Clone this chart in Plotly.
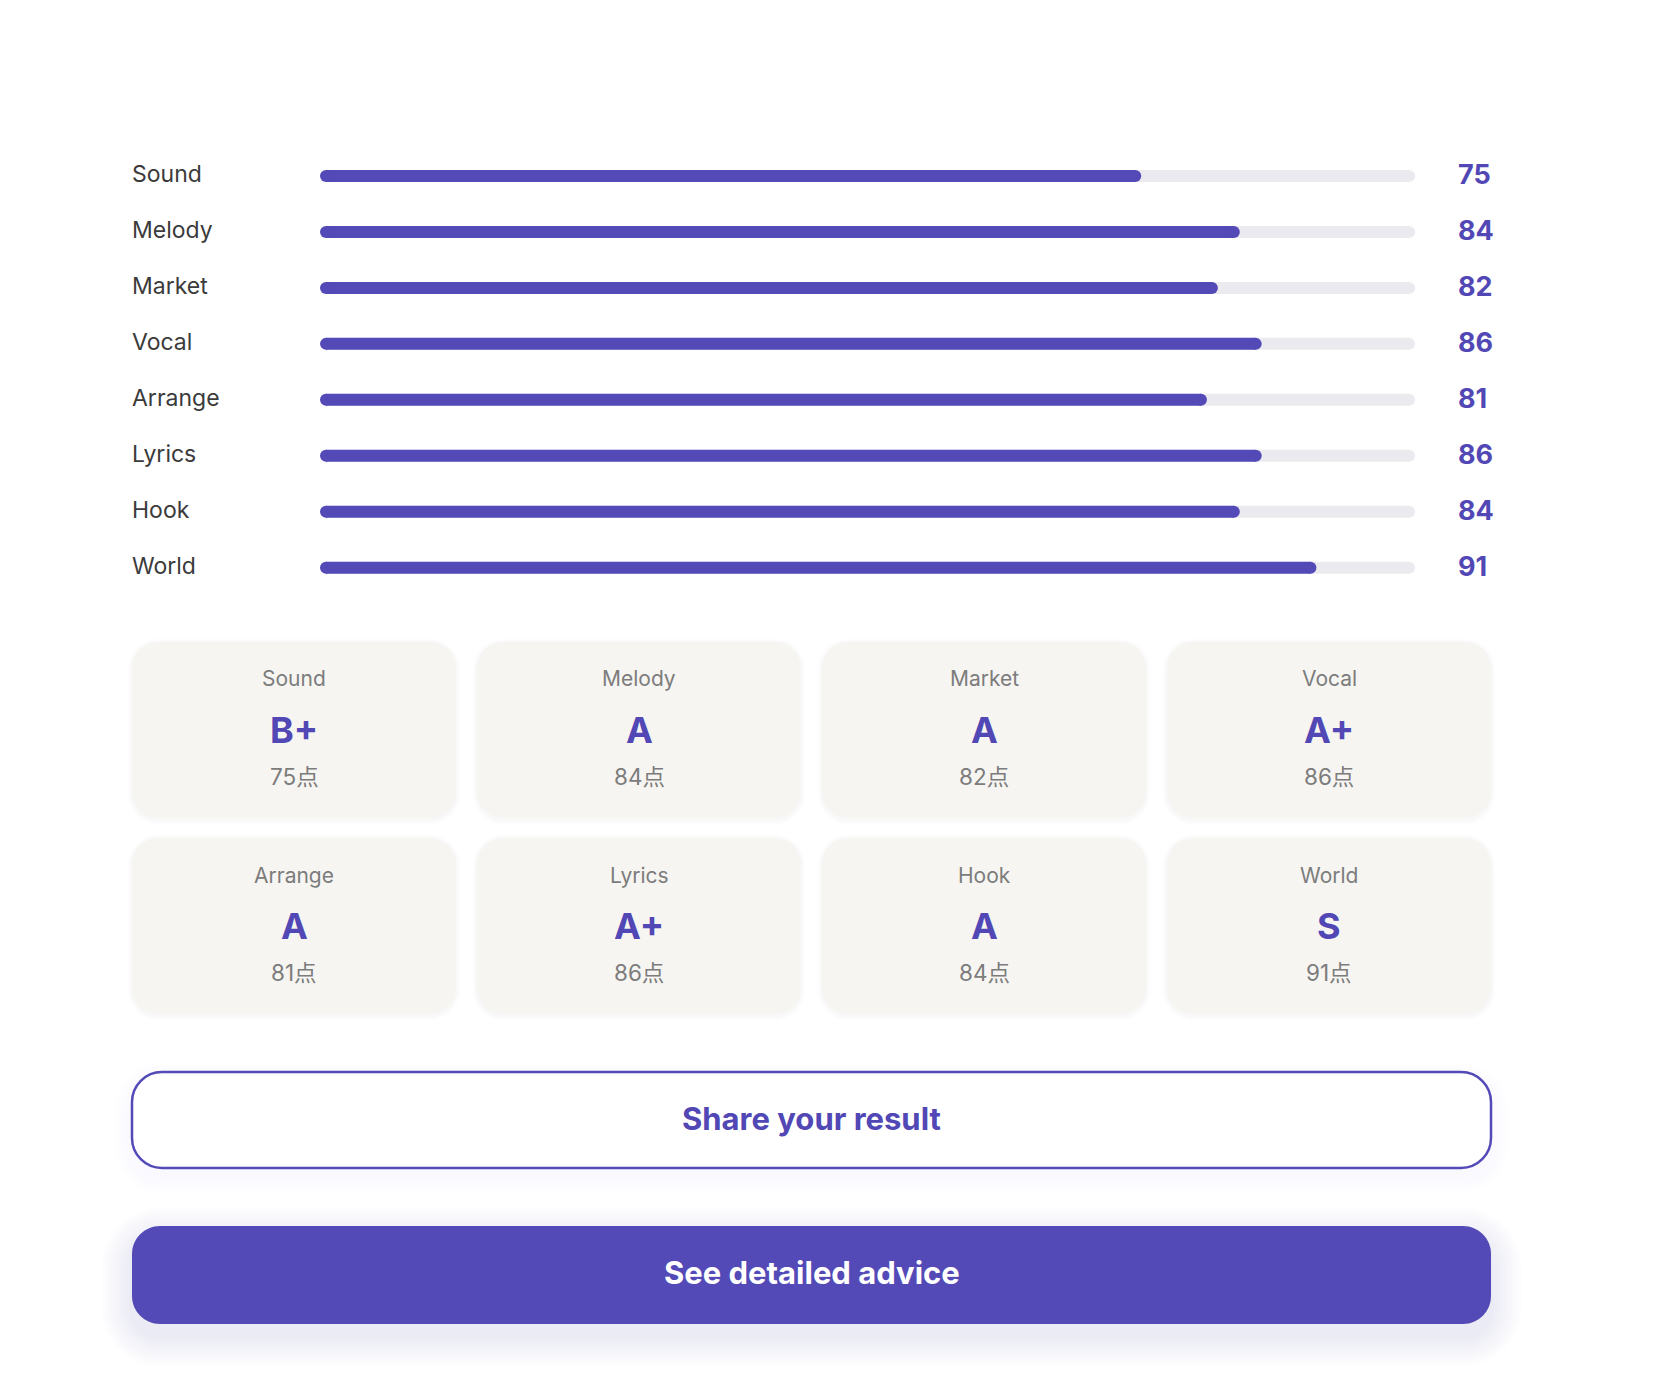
import plotly.graph_objects as go

W, H = 1670, 1376

categories = ["Sound", "Melody", "Market", "Vocal", "Arrange", "Lyrics", "Hook", "World"]
scores = [75, 84, 82, 86, 81, 86, 84, 91]
grades = ["B+", "A", "A", "A+", "A", "A+", "A", "S"]
max_score = 100
unit = "点"
share_label = "Share your result"
advice_label = "See detailed advice"

PURPLE = "#534AB7"
PURPLE_TXT = "#5147B5"
TRACK = "#EBEBEF"
LABEL = "#3B3B3B"
GRAY = "#7C7C7C"
CARD = "#F6F5F2"
FONT = "Inter, 'Noto Sans CJK JP', sans-serif"

# bar geometry (pixels)
BAR_X0, BAR_X1 = 320, 1415
ROW_TOP, ROW_BOTTOM = 148, 595.7
THICK = 12


def xp(x):
    return x / W


def yp(y):
    return 1 - y / H


def rrect(x0, y0, x1, y1, r):
    k = 0.5523 * r
    pts = [
        ("M", [(x0 + r, y0)]),
        ("L", [(x1 - r, y0)]),
        ("C", [(x1 - r + k, y0), (x1, y0 + r - k), (x1, y0 + r)]),
        ("L", [(x1, y1 - r)]),
        ("C", [(x1, y1 - r + k), (x1 - r + k, y1), (x1 - r, y1)]),
        ("L", [(x0 + r, y1)]),
        ("C", [(x0 + r - k, y1), (x0, y1 - r + k), (x0, y1 - r)]),
        ("L", [(x0, y0 + r)]),
        ("C", [(x0, y0 + r - k), (x0 + r - k, y0), (x0 + r, y0)]),
    ]
    s = ""
    for cmd, ps in pts:
        s += cmd + " " + " ".join(f"{xp(px):.6f},{yp(py):.6f}" for px, py in ps) + " "
    return s + "Z"


row_h = (ROW_BOTTOM - ROW_TOP) / len(categories)
bw = THICK / row_h                               # bar width in category units
ru = (THICK / 2) / (BAR_X1 - BAR_X0) * max_score  # cap radius in data units

fig = go.Figure()

# track bars (flat body) + right round cap
fig.add_trace(go.Bar(
    y=categories, x=[max_score - 2 * ru] * len(categories), base=[ru] * len(categories),
    orientation="h", marker=dict(color=TRACK, line=dict(width=0)),
    width=bw, hoverinfo="skip", showlegend=False,
))
# score bars (flat body)
fig.add_trace(go.Bar(
    y=categories, x=[s - 2 * ru for s in scores], base=[ru] * len(categories),
    orientation="h", marker=dict(color=PURPLE, line=dict(width=0)),
    width=bw, hoverinfo="skip", showlegend=False,
))
fig.add_trace(go.Scatter(
    y=categories, x=[max_score - ru] * len(categories), mode="markers",
    marker=dict(color=TRACK, size=THICK, line=dict(width=0)),
    hoverinfo="skip", showlegend=False,
))
# score round caps (both ends)
fig.add_trace(go.Scatter(
    y=categories + categories, x=[ru] * len(categories) + [s - ru for s in scores], mode="markers",
    marker=dict(color=PURPLE, size=THICK, line=dict(width=0)),
    hoverinfo="skip", showlegend=False,
))

fig.update_layout(
    width=W, height=H,
    margin=dict(l=0, r=0, t=0, b=0),
    paper_bgcolor="white", plot_bgcolor="white",
    barmode="overlay",
    xaxis=dict(domain=[xp(BAR_X0), xp(BAR_X1)], range=[0, max_score], visible=False, fixedrange=True),
    yaxis=dict(domain=[yp(ROW_BOTTOM), yp(ROW_TOP)], type="category",
               categoryorder="array", categoryarray=categories,
               range=[len(categories) - 0.5, -0.5], visible=False, fixedrange=True),
    font=dict(family=FONT),
)

annotations = []
for c, s in zip(categories, scores):
    annotations.append(dict(x=xp(130), xref="paper", y=c, yref="y", xanchor="left", yanchor="middle",
                            text=c, showarrow=False, yshift=2,
                            font=dict(size=23, color=LABEL, family=FONT)))
    annotations.append(dict(x=xp(1456), xref="paper", y=c, yref="y", xanchor="left", yanchor="middle",
                            text=f"<b>{s}</b>", showarrow=False, yshift=1,
                            font=dict(size=27, color=PURPLE_TXT, family=FONT)))

shapes = []
card_x = [132, 477, 822, 1167]
card_y = [642, 838]
cw, ch = 324, 176
for i, (c, s, g) in enumerate(zip(categories, scores, grades)):
    x0 = card_x[i % 4]
    y0 = card_y[i // 4]
    for j, a in enumerate([0.012, 0.009, 0.006]):
        e = 1.5 * (j + 1)
        shapes.append(dict(type="path", path=rrect(x0 - e, y0 - e + 1, x0 + cw + e, y0 + ch + e + 2, 26 + e),
                           xref="paper", yref="paper", fillcolor=f"rgba(0,0,0,{a})",
                           line=dict(width=0), layer="below"))
    shapes.append(dict(type="path", path=rrect(x0, y0, x0 + cw, y0 + ch, 26),
                       xref="paper", yref="paper", fillcolor=CARD, line=dict(width=0), layer="below"))
    cx = xp(x0 + cw / 2)
    annotations.append(dict(x=cx, y=yp(y0 + 37), xref="paper", yref="paper", text=c, showarrow=False,
                            xanchor="center", yanchor="middle", font=dict(size=21, color=GRAY, family=FONT)))
    annotations.append(dict(x=cx, y=yp(y0 + 88), xref="paper", yref="paper", text=f"<b>{g}</b>",
                            showarrow=False, xanchor="center", yanchor="middle",
                            font=dict(size=36, color=PURPLE_TXT, family=FONT)))
    annotations.append(dict(x=cx, y=yp(y0 + 134), xref="paper", yref="paper", text=f"{s}{unit}",
                            showarrow=False, xanchor="center", yanchor="middle",
                            font=dict(size=22.5, color=GRAY, family=FONT)))

# share button: faint shadow + outlined button
for j in range(6):
    e = 3 * (j + 1)
    shapes.append(dict(type="path", path=rrect(132 - e, 1072 - e + 8, 1491 + e, 1168 + e + 8, 30 + e),
                       xref="paper", yref="paper", fillcolor="rgba(83,74,183,0.005)",
                       line=dict(width=0), layer="below"))
shapes.append(dict(type="path", path=rrect(132, 1072, 1491, 1168, 30), xref="paper", yref="paper",
                   fillcolor="white", line=dict(color=PURPLE, width=2.5), layer="below"))
annotations.append(dict(x=xp(811.5), y=yp(1118), xref="paper", yref="paper", text=f"<b>{share_label}</b>",
                        showarrow=False, xanchor="center", yanchor="middle",
                        font=dict(size=31, color=PURPLE_TXT, family=FONT)))

# advice button: soft glow + filled button
for j in range(10):
    e = 3 * (j + 1)
    shapes.append(dict(type="path", path=rrect(132 - e, 1226 - e + 12, 1491 + e, 1324 + e + 12, 28 + e),
                       xref="paper", yref="paper", fillcolor="rgba(83,74,183,0.011)",
                       line=dict(width=0), layer="below"))
shapes.append(dict(type="path", path=rrect(132, 1226, 1491, 1324, 28), xref="paper", yref="paper",
                   fillcolor=PURPLE, line=dict(width=0), layer="below"))
annotations.append(dict(x=xp(811.5), y=yp(1272), xref="paper", yref="paper", text=f"<b>{advice_label}</b>",
                        showarrow=False, xanchor="center", yanchor="middle",
                        font=dict(size=31, color="white", family=FONT)))

fig.update_layout(annotations=annotations, shapes=shapes)

fig.write_html("out.html", config={"displayModeBar": False},
               post_script="document.body.style.margin='0';document.body.style.overflow='hidden';")
